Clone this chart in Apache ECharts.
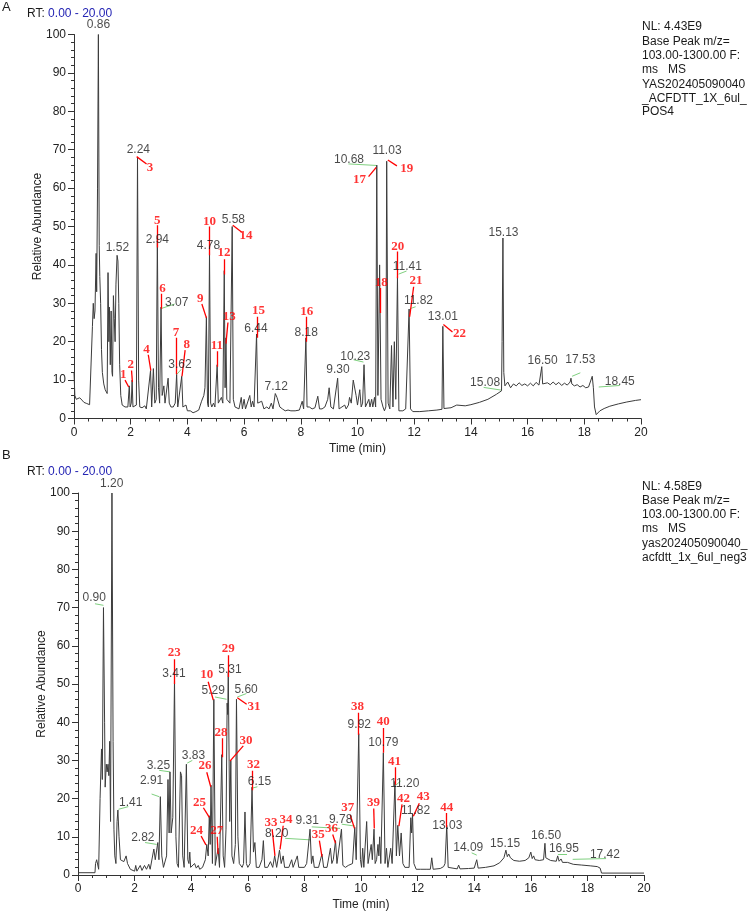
<!DOCTYPE html>
<html><head><meta charset="utf-8">
<script src="https://cdn.jsdelivr.net/npm/echarts@6/dist/echarts.min.js"></script>
<style>html,body{margin:0;padding:0;background:#fff}#c{width:752px;height:914px}</style>
</head><body><div id="c"></div>
<script>
// ---------- Panel A (positive mode) ----------
const traceA = [[0,12],[0.03,6],[0.08,5],[0.15,5],[0.2,5.4],[0.28,4.8],[0.35,4.2],[0.45,3.9],[0.55,3.6],[0.62,3.4],
[0.65,24],[0.68,30],[0.71,26],[0.74,28],[0.78,43],[0.8,33],[0.83,60],[0.86,100],[0.89,45],[0.91,37],[0.94,30],[0.97,18],[1.0,12],[1.05,9],[1.1,7.5],[1.17,6.5],
[1.2,38],[1.23,20],[1.25,29],[1.28,14],[1.31,28],[1.34,12],[1.36,11],[1.39,32],[1.42,26],[1.45,20],[1.48,35],[1.52,42.5],[1.55,41],[1.58,30],[1.61,14],[1.65,6],[1.7,3.5],[1.8,3],[1.9,3],
[1.95,8.5],[1.98,3],[2.02,4],[2.05,10],[2.08,3],[2.15,3],[2.2,3.5],[2.24,68],[2.28,10],[2.32,3],[2.4,2.8],[2.5,3.3],[2.55,2.5],[2.62,3],
[2.7,12.5],[2.74,3],[2.8,13],[2.85,4],[2.9,5],[2.94,47],[2.98,8],[3.02,4],[3.07,29],[3.11,6],[3.17,8.5],[3.21,4],[3.25,3.5],[3.32,10.5],[3.36,4],[3.42,3],[3.5,3],[3.57,4],[3.62,11.5],[3.66,3],[3.72,2.5],[3.8,11],[3.84,3],[3.9,2.5],[3.95,3.5],[4.0,2],[4.1,2],[4.2,1.5],[4.3,1.8],[4.4,2.2],[4.5,4.5],[4.58,6],[4.62,8],[4.67,26.5],[4.71,4],[4.74,3],[4.78,43.5],[4.82,4],[4.86,3],[4.92,4],[4.97,3],[5.05,14],[5.09,4],[5.15,4],[5.2,5.5],[5.25,4],[5.3,38.5],[5.33,8],[5.36,21],[5.39,5],[5.45,5],[5.5,4],[5.58,50],[5.62,5],[5.68,3],[5.75,3],[5.82,2.5],[5.9,5.5],[5.94,2.5],[6.0,5],[6.05,2.5],[6.12,3],[6.2,6],[6.25,3],[6.3,4.5],[6.35,3],[6.44,22],[6.48,4],[6.55,3.5],[6.62,4.5],[6.7,2.5],[6.8,3],[6.88,2.5],[6.96,4],[7.02,2.5],[7.1,6.5],[7.16,5.5],[7.2,6],[7.26,3],[7.35,2.5],[7.45,2],[7.55,2.2],[7.65,2],[7.8,2],[7.95,2.2],[8.05,4.5],[8.1,2.5],[8.18,21],[8.22,3],[8.3,3],[8.4,2.5],[8.5,2.8],[8.6,5.8],[8.66,2.5],[8.75,2.5],[8.85,3],[8.95,5],[9.0,8],[9.06,3],[9.15,2.5],[9.22,2.5],[9.3,10.5],[9.35,2.5],[9.45,3],[9.55,3.5],[9.6,2.5],[9.68,3.5],[9.72,5.5],[9.78,4],[9.85,10],[9.9,9.5],[9.95,6],[10.0,3.5],[10.08,7.5],[10.13,3],[10.18,4],[10.23,14],[10.28,3],[10.35,3.5],[10.4,5],[10.44,3],[10.5,5],[10.54,3],[10.6,5.5],[10.64,3],[10.68,66],[10.72,6],[10.78,40],[10.83,5],[10.9,3],[10.95,2],[11.0,3],[11.03,67],[11.08,4],[11.14,2.5],[11.2,19],[11.25,3],[11.3,20],[11.35,5],[11.41,37],[11.46,2],[11.5,2.5],[11.6,2],[11.7,2.5],[11.76,3],[11.82,28.5],[11.87,2.5],[11.95,1.8],[12.2,1.8],[12.5,2],[12.8,2.2],[12.98,2.4],[13.01,24],[13.05,2.6],[13.3,2.8],[13.5,3.5],[13.55,3],[13.8,3.3],[14.0,3.6],[14.3,4.2],[14.6,5],[14.9,6.3],[15.08,7.2],[15.1,20],[15.13,47],[15.16,12],[15.2,8.5],[15.3,9.5],[15.4,8],[15.5,9],[15.6,8.5],[15.7,9.3],[15.8,8.6],[15.9,9],[16.0,8.5],[16.1,9.2],[16.2,8.5],[16.3,9.4],[16.4,8.7],[16.47,9],[16.5,13.5],[16.53,9],[16.6,8.6],[16.7,9.3],[16.8,8.8],[16.9,9.5],[17.0,8.8],[17.1,9.4],[17.2,8.6],[17.3,9.2],[17.4,8.7],[17.5,9.5],[17.53,10.5],[17.56,9],[17.65,8.5],[17.75,8.8],[17.85,8.2],[17.95,8.6],[18.05,8],[18.15,8.2],[18.2,7.8],[18.28,11],[18.32,8],[18.36,3],[18.42,1],[18.48,1.3],[18.55,2],[18.7,2.6],[18.9,3.2],[19.2,3.8],[19.5,4.3],[19.8,4.7],[20,4.9]];

const peakLabelsA = [[0.86,102.5,"0.86"],[2.27,70.1,"2.24"],[1.53,44.4,"1.52"],[2.94,46.5,"2.94"],[3.62,30.1,"3.07"],[3.74,13.9,"3.62"],[4.74,45,"4.78"],[5.62,51.9,"5.58"],[6.42,23.3,"6.44"],[7.13,8.4,"7.12"],[8.19,22.3,"8.18"],[9.31,12.6,"9.30"],[9.92,16,"10.23"],[9.7,67.5,"10.68"],[11.04,69.7,"11.03"],[11.76,39.6,"11.41"],[12.15,30.8,"11.82"],[13.01,26.6,"13.01"],[14.5,9.3,"15.08"],[15.15,48.3,"15.13"],[16.53,15.1,"16.50"],[17.86,15.3,"17.53"],[19.25,9.7,"18.45"]];

const compoundLabelsA = [[1.74,11.4,"1"],[2.0,13.9,"2"],[2.68,65.2,"3"],[2.56,17.9,"4"],[2.94,51.6,"5"],[3.12,33.7,"6"],[3.6,22.3,"7"],[3.98,19.2,"8"],[4.45,31.2,"9"],[4.78,51.3,"10"],[5.04,19.1,"11"],[5.29,43.3,"12"],[5.48,26.4,"13"],[6.07,47.6,"14"],[6.51,28.1,"15"],[8.21,27.9,"16"],[10.07,62.1,"17"],[10.84,35.4,"18"],[11.74,65,"19"],[11.42,44.8,"20"],[12.06,35.9,"21"],[13.6,22,"22"]];

const compoundLinksA = [[1.80,10,1.93,8.2],[2.03,12.5,2.06,9.5],[2.21,68.2,2.56,66.3],[2.62,16.6,2.71,12.5],[2.94,50.3,2.94,44.5],[3.07,32.5,3.07,28.6],[3.62,21,3.62,11.5],[3.92,17.8,3.81,11],[4.51,29.8,4.67,26.2],[4.78,50,4.78,42.5],[5.04,17.5,5.05,13.5],[5.3,41.5,5.3,37.5],[5.43,25,5.36,19.5],[5.6,50.3,5.92,48.5],[6.45,26.5,6.45,21],[8.18,26.5,8.18,20],[10.39,63,10.66,65.4],[10.8,34,10.8,27.5],[11.07,67.3,11.39,65.8],[11.41,43.5,11.41,36.5],[11.98,34.3,11.84,26.5],[13.03,24.5,13.35,22.5]];

const leaderLinksA = [[3.1,28.7,3.55,29.8],[3.64,11.6,3.78,12.8],[9.86,15.3,10.21,14.7],[9.68,66.3,10.66,65.9],[11.45,37.6,11.73,38.4],[11.85,28.6,12.05,29.1],[14.45,8.1,15.06,7.4],[17.57,11,17.86,11.9],[18.51,8.2,19.25,8.6]];

const infoA = ["NL: 4.43E9","Base Peak m/z=","103.00-1300.00 F:","ms   MS","YAS202405090040","_ACFDTT_1X_6ul_","POS4"];

// ---------- Panel B (negative mode) ----------
const traceB = [[0,0.6],[0.6,0.6],[0.62,3],[0.66,4],[0.7,4.5],[0.73,1.5],[0.78,20],[0.83,33],[0.86,25],[0.9,70],[0.94,40],[0.96,23],[1.0,29],[1.03,27],[1.06,29],[1.09,26],[1.12,35],[1.15,14],[1.2,100],[1.24,35],[1.27,12],[1.3,5],[1.34,3],[1.38,14],[1.41,17],[1.45,10],[1.5,4],[1.55,3.5],[1.62,3.5],[1.7,5],[1.75,3],[1.85,1.5],[2.0,1],[2.04,2.5],[2.08,1],[2.2,2.5],[2.26,1.2],[2.35,2.5],[2.42,1.5],[2.5,2.8],[2.55,1.5],[2.6,1.5],[2.68,6.8],[2.73,4],[2.77,4.5],[2.82,8.5],[2.86,4],[2.91,20.5],[2.96,5],[3.02,2],[3.08,1.5],[3.13,5],[3.18,25],[3.22,11],[3.25,27],[3.29,11],[3.35,15],[3.41,51],[3.46,10],[3.5,3],[3.55,2],[3.62,27],[3.66,26],[3.7,5],[3.75,2],[3.78,2],[3.83,29],[3.88,4],[3.92,3],[3.95,6],[3.98,2],[4.05,1.5],[4.12,3],[4.18,1.8],[4.25,2.5],[4.3,1.5],[4.4,2],[4.45,1.5],[4.5,4],[4.55,8],[4.6,5],[4.64,15.5],[4.67,8],[4.7,23.5],[4.75,3],[4.8,46],[4.85,2.5],[4.9,3],[4.95,7],[5.0,2],[5.08,31.5],[5.13,5],[5.18,2],[5.23,12],[5.27,45],[5.29,42],[5.31,53],[5.36,14],[5.4,30],[5.44,5],[5.5,3],[5.56,8],[5.6,46],[5.65,10],[5.7,3],[5.8,2],[5.85,3],[5.9,16.5],[5.95,3],[6.0,2],[6.08,3],[6.15,23],[6.2,6],[6.25,8.5],[6.3,2],[6.4,2],[6.5,4],[6.55,9],[6.6,2],[6.7,2],[6.8,3.5],[6.88,2],[6.95,5],[7.02,2],[7.12,6.5],[7.18,3],[7.25,5],[7.3,2],[7.45,2],[7.55,4],[7.6,2],[7.75,5],[7.8,2],[8.0,2],[8.08,3],[8.14,2.5],[8.2,12],[8.25,3],[8.3,5],[8.35,2],[8.5,2],[8.62,5.5],[8.68,2],[8.8,2],[8.92,7],[8.97,3],[9.02,4],[9.1,9],[9.15,3],[9.22,2.5],[9.31,12],[9.36,2.5],[9.45,2],[9.55,2.5],[9.62,2],[9.7,3],[9.78,12.5],[9.83,4],[9.92,37],[9.98,4],[10.02,2],[10.06,7],[10.1,2],[10.2,14],[10.25,3],[10.3,2.5],[10.36,8],[10.4,4],[10.46,12],[10.5,3],[10.55,4],[10.6,8],[10.63,5],[10.66,10],[10.7,3],[10.79,32],[10.85,3],[10.9,7],[10.95,2],[11.0,2.5],[11.05,7],[11.1,3],[11.2,24.5],[11.25,5],[11.3,13],[11.36,5],[11.42,11],[11.48,3],[11.55,2],[11.62,2.5],[11.7,2],[11.76,15],[11.79,11],[11.82,16],[11.87,3],[11.95,1.5],[12.1,1.5],[12.3,1.5],[12.45,1.5],[12.5,4.5],[12.55,1.5],[12.8,1.7],[12.92,2.2],[12.97,3],[13.03,13],[13.08,2],[13.15,1.5],[13.4,1.6],[13.45,2.6],[13.5,1.6],[13.8,1.7],[14.0,1.8],[14.09,4],[14.14,1.8],[14.4,2],[14.7,2.4],[14.9,3.2],[15.05,4.5],[15.12,6.5],[15.17,4.8],[15.22,5.5],[15.28,4.5],[15.4,3.8],[15.6,3.6],[15.8,3.8],[15.93,4.5],[16.0,6],[16.05,4.3],[16.1,5],[16.15,4],[16.3,3.8],[16.45,4],[16.5,8.3],[16.53,4.5],[16.7,3.8],[16.9,3.6],[16.95,5],[17.0,3.6],[17.07,4.2],[17.12,3.3],[17.3,3.3],[17.5,2.8],[17.8,2.6],[18.1,2.4],[18.35,2.2],[18.45,1.8],[18.5,0.5],[20,0.5]];

const peakLabelsB = [[1.19,102.4,"1.20"],[0.57,72.6,"0.90"],[1.86,19,"1.41"],[2.29,9.8,"2.82"],[2.6,24.6,"2.91"],[2.84,28.6,"3.25"],[3.39,52.8,"3.41"],[4.08,31.2,"3.83"],[4.78,48.2,"5.29"],[5.37,53.7,"5.31"],[5.94,48.6,"5.60"],[6.41,24.3,"6.15"],[7.02,10.9,"8.20"],[8.1,14.2,"9.31"],[9.28,14.6,"9.78"],[9.94,39.3,"9.92"],[10.79,34.6,"10.79"],[11.55,24,"11.20"],[11.93,16.8,"11.82"],[13.05,12.9,"13.03"],[13.79,7.2,"14.09"],[15.09,8.3,"15.15"],[16.54,10.2,"16.50"],[17.17,7,"16.95"],[18.62,5.2,"17.42"]];

const compoundLabelsB = [[3.4,58.2,"23"],[4.55,52.4,"10"],[4.19,11.5,"24"],[4.29,19,"25"],[4.49,28.5,"26"],[4.9,11.5,"27"],[5.05,37.3,"28"],[5.31,59.3,"29"],[5.94,35.2,"30"],[6.22,44.1,"31"],[6.2,28.8,"32"],[6.82,13.7,"33"],[7.35,14.4,"34"],[8.49,10.5,"35"],[8.96,12.2,"36"],[9.53,17.6,"37"],[9.88,44.1,"38"],[10.44,18.9,"39"],[10.79,40.1,"40"],[11.18,29.7,"41"],[11.5,20.1,"42"],[12.2,20.5,"43"],[13.03,17.7,"44"]];

const compoundLinksB = [[3.41,56.5,3.41,50],[4.6,50.6,4.78,45.8],[4.35,10.2,4.52,7.9],[4.43,17.6,4.64,15.1],[4.55,26.9,4.69,23.1],[4.92,10,4.95,5.5],[5.08,35.8,5.08,30.8],[5.31,57.5,5.31,51.8],[5.84,33.8,5.37,29.8],[5.96,44.7,5.63,46.4],[6.15,27.3,6.15,22.2],[6.86,12,6.96,5],[7.25,12.9,7.14,6.7],[8.53,9,8.62,4.8],[9.0,10.6,9.1,8.3],[9.62,15.7,9.77,12.2],[9.92,42.5,9.92,36.7],[10.45,17.4,10.47,12.2],[10.79,38.5,10.79,32],[11.2,28.2,11.2,23.6],[11.45,18.5,11.34,12.8],[12.06,18.8,11.85,15.4],[13.03,16.2,13.03,12.5]];

const leaderLinksB = [[0.6,71,0.9,70.6],[1.43,17.2,1.78,17.9],[2.37,8.5,2.78,8],[2.6,21.2,2.87,20.5],[2.87,27.4,3.25,27],[3.86,29.3,4.04,30],[4.84,46.6,5.25,46],[5.63,46.6,5.95,47.5],[6.14,22.7,6.34,23.1],[7.32,9.6,8.2,9.2],[8.26,12.6,9.26,12.2],[9.32,13.3,9.79,12.8],[11.23,23.5,11.4,24.6],[13.91,5.8,14.09,5.2],[16.96,5.4,17.28,5.4],[17.48,4.1,18.66,4.3]];

const infoB = ["NL: 4.58E9","Base Peak m/z=","103.00-1300.00 F:","ms   MS","yas202405090040_","acfdtt_1x_6ul_neg3"];

// ---------- build ----------
const SANS = '"Liberation Sans", Arial, Helvetica, sans-serif';
const SERIF = '"Liberation Serif", "Times New Roman", serif';
const chart = echarts.init(document.getElementById('c'), null, {renderer: 'canvas'});

function xAxisCfg(gi) {
  return {
    gridIndex: gi, type: 'value', min: 0, max: 20, interval: 2,
    name: 'Time (min)', nameLocation: 'middle', nameGap: 24, nameMoveOverlap: false,
    nameTextStyle: {color: '#222', fontSize: 12, fontFamily: SANS},
    axisLine: {onZero: false, lineStyle: {color: '#333', width: 1}},
    axisTick: {inside: false, length: 6, lineStyle: {color: '#333'}},
    minorTick: {show: true, splitNumber: 4, length: 3, lineStyle: {color: '#333'}},
    axisLabel: {color: '#222', fontSize: 12, fontFamily: SANS, margin: 8},
    splitLine: {show: false}
  };
}
function yAxisCfg(gi) {
  return {
    gridIndex: gi, type: 'value', min: 0, max: 100, interval: 10,
    name: 'Relative Abundance', nameLocation: 'middle', nameGap: 30, nameRotate: 90, nameMoveOverlap: false,
    nameTextStyle: {color: '#222', fontSize: 12, fontFamily: SANS},
    axisLine: {show: true, lineStyle: {color: '#333', width: 1}},
    axisTick: {inside: false, length: 6, lineStyle: {color: '#333'}},
    minorTick: {show: true, splitNumber: 5, length: 3, lineStyle: {color: '#333'}},
    axisLabel: {color: '#222', fontSize: 12, fontFamily: SANS, margin: 8},
    splitLine: {show: false}
  };
}
function linkData(arr) { return arr.map(l => ({coords: [[l[0], l[1]], [l[2], l[3]]]})); }
function textSeries(gi, arr, color, font, weight, size) {
  return {
    type: 'scatter', xAxisIndex: gi, yAxisIndex: gi, clip: false, silent: true, z: 5,
    symbolSize: 1, itemStyle: {color: 'rgba(255,255,255,0)'},
    data: arr,
    label: {show: true, position: 'inside', formatter: p => p.value[2],
      color: color, fontSize: size, fontFamily: font, fontWeight: weight}
  };
}
function panelSeries(gi, trace, peaks, comps, compLinks, leaders) {
  return [
    {type: 'lines', coordinateSystem: 'cartesian2d', xAxisIndex: gi, yAxisIndex: gi, silent: true, z: 1,
      lineStyle: {color: '#7fd07f', width: 1, opacity: 1}, data: linkData(leaders)},
    {type: 'line', xAxisIndex: gi, yAxisIndex: gi, data: trace, showSymbol: false, symbol: 'none',
      lineStyle: {color: '#3c3c3c', width: 1}, silent: true, z: 2},
    {type: 'lines', coordinateSystem: 'cartesian2d', xAxisIndex: gi, yAxisIndex: gi, silent: true, z: 3,
      lineStyle: {color: '#ff0000', width: 1.3, opacity: 1}, data: linkData(compLinks)},
    textSeries(gi, peaks, '#1a1a1a', SANS, 'normal', 12),
    textSeries(gi, comps, '#ff0000', SERIF, 'bold', 13)
  ];
}
function infoText(lines, top0, steps) {
  return lines.map((s, i) => ({type: 'text', left: 642, top: top0 + steps[i],
    style: {text: s, fill: '#1a1a1a', font: '12px ' + SANS}}));
}
function rtText(top) {
  return {type: 'text', left: 27, top: top, style: {text: '{a|RT: }{b|0.00 - 20.00}',
    rich: {a: {fill: '#1a1a1a', font: '12px ' + SANS}, b: {fill: '#2424b4', font: '12px ' + SANS}}}};
}

const option = {
  animation: false,
  backgroundColor: '#fff',
  grid: [
    {left: 74, right: 111, top: 34.5, height: 384},
    {left: 78, right: 108, top: 493, height: 382}
  ],
  xAxis: [xAxisCfg(0), xAxisCfg(1)],
  yAxis: [yAxisCfg(0), yAxisCfg(1)],
  series: [].concat(
    panelSeries(0, traceA, peakLabelsA, compoundLabelsA, compoundLinksA, leaderLinksA),
    panelSeries(1, traceB, peakLabelsB, compoundLabelsB, compoundLinksB, leaderLinksB)
  ),
  graphic: [].concat(
    [{type: 'text', left: 2, top: 1, style: {text: 'A', fill: '#1a1a1a', font: '13px ' + SANS}},
     {type: 'text', left: 2, top: 449, style: {text: 'B', fill: '#1a1a1a', font: '13px ' + SANS}},
     rtText(8), rtText(466)],
    infoText(infoA, 21, [0, 15, 29, 43, 58, 72, 85]),
    infoText(infoB, 481, [0, 14, 28, 42, 57, 71])
  )
};
chart.setOption(option);
</script></body></html>
